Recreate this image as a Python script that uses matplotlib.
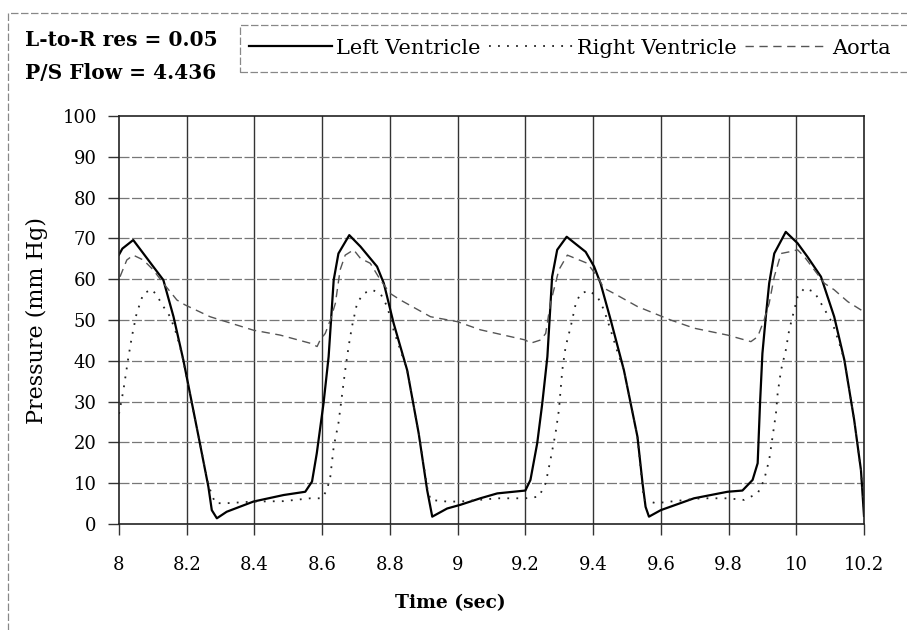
import matplotlib
matplotlib.use("Agg")
import matplotlib.pyplot as plt
from matplotlib.patches import Rectangle

# left ventricle pressure (mm Hg) vs time (sec)
lv_time = [8.000, 8.010, 8.042, 8.072, 8.101, 8.131, 8.161, 8.190, 8.235, 8.264, 8.274, 8.289,
           8.318, 8.397, 8.486, 8.550, 8.570, 8.584, 8.604, 8.619, 8.634, 8.648, 8.680, 8.713,
           8.762, 8.782, 8.811, 8.851, 8.885, 8.910, 8.925, 8.969, 9.008, 9.067, 9.117, 9.200,
           9.215, 9.235, 9.250, 9.265, 9.279, 9.294, 9.322, 9.378, 9.403, 9.422, 9.452, 9.491,
           9.531, 9.546, 9.555, 9.565, 9.600, 9.698, 9.797, 9.841, 9.871, 9.886, 9.893, 9.900,
           9.910, 9.920, 9.935, 9.969, 10.004, 10.033, 10.073, 10.112, 10.142, 10.171, 10.191, 10.200]
lv_pressure = [66.0, 67.5, 69.6, 66.3, 63.1, 59.8, 50.8, 40.2, 21.4, 9.1, 3.4, 1.4,
               3.0, 5.5, 7.1, 7.9, 10.4, 17.3, 29.6, 41.0, 59.8, 66.3, 70.8, 68.0,
               63.1, 59.0, 49.2, 37.7, 22.2, 8.3, 1.8, 3.8, 4.7, 6.3, 7.5, 8.2,
               10.8, 19.8, 29.6, 41.0, 60.6, 67.2, 70.4, 66.7, 63.1, 59.0, 50.0, 37.7,
               21.4, 10.0, 4.2, 1.8, 3.4, 6.3, 7.9, 8.2, 10.8, 14.9, 29.6, 41.8,
               50.8, 59.0, 66.3, 71.6, 68.8, 65.5, 60.6, 50.8, 40.2, 25.5, 13.2, 2.0]

# right ventricle
rv_time = [8.000, 8.013, 8.028, 8.038, 8.052, 8.072, 8.097, 8.111, 8.131, 8.151, 8.166, 8.180,
           8.190, 8.235, 8.264, 8.284, 8.318, 8.397, 8.486, 8.565, 8.599, 8.614, 8.624, 8.634,
           8.648, 8.658, 8.668, 8.678, 8.688, 8.703, 8.722, 8.747, 8.772, 8.792, 8.811, 8.831,
           8.851, 8.885, 8.910, 8.920, 8.969, 9.008, 9.117, 9.200, 9.240, 9.260, 9.274, 9.289,
           9.299, 9.309, 9.319, 9.334, 9.349, 9.363, 9.388, 9.413, 9.432, 9.452, 9.472, 9.491,
           9.531, 9.550, 9.585, 9.629, 9.718, 9.797, 9.846, 9.886, 9.905, 9.920, 9.930, 9.940,
           9.945, 9.955, 9.969, 9.979, 9.994, 10.004, 10.024, 10.053, 10.073, 10.107, 10.127, 10.142,
           10.171, 10.191, 10.200]
rv_pressure = [27.0, 32.8, 41.0, 45.9, 51.6, 56.5, 57.5, 56.1, 53.3, 50.8, 47.5, 43.5,
               40.0, 21.4, 9.5, 5.1, 5.1, 5.5, 5.6, 6.3, 6.3, 8.3, 11.6, 18.9,
               24.7, 31.2, 37.7, 43.5, 48.4, 54.1, 56.5, 57.4, 56.5, 53.3, 47.5, 42.6,
               37.7, 22.2, 9.0, 5.9, 5.5, 5.5, 6.3, 6.3, 6.7, 10.0, 15.7, 22.2,
               27.9, 37.7, 43.5, 48.4, 54.1, 56.5, 57.2, 55.7, 52.5, 47.5, 42.2, 37.7,
               21.4, 5.9, 5.1, 5.5, 6.3, 6.3, 5.9, 7.5, 10.8, 15.7, 21.4, 27.1,
               32.0, 37.7, 42.6, 47.5, 52.5, 55.7, 57.8, 56.9, 54.1, 49.2, 44.3, 40.2,
               25.5, 13.2, 3.0]

# aorta
ao_time = [8.003, 8.023, 8.042, 8.072, 8.101, 8.131, 8.171, 8.195, 8.269, 8.397, 8.476, 8.565,
           8.585, 8.594, 8.609, 8.624, 8.639, 8.653, 8.668, 8.693, 8.713, 8.742, 8.772, 8.801,
           8.831, 8.920, 8.999, 9.067, 9.200, 9.215, 9.245, 9.260, 9.274, 9.289, 9.299, 9.324,
           9.383, 9.413, 9.432, 9.462, 9.531, 9.629, 9.698, 9.797, 9.866, 9.886, 9.905, 9.920,
           9.935, 9.955, 9.979, 10.004, 10.024, 10.053, 10.083, 10.112, 10.152, 10.200]
ao_pressure = [60.6, 64.7, 65.9, 64.7, 62.3, 59.0, 54.9, 53.7, 50.8, 47.5, 46.3, 44.3,
               43.5, 45.1, 46.7, 50.0, 54.1, 62.3, 65.9, 67.2, 65.1, 63.9, 59.8, 56.5,
               54.9, 50.8, 49.6, 47.6, 45.1, 44.3, 45.1, 46.7, 54.1, 59.0, 62.3, 65.9,
               63.9, 60.6, 57.8, 56.5, 53.3, 50.0, 48.0, 46.3, 44.7, 45.9, 50.0, 54.1,
               60.6, 66.3, 66.7, 67.2, 65.5, 62.3, 59.0, 57.4, 54.5, 52.0]

x_ticks = [8, 8.2, 8.4, 8.6, 8.8, 9, 9.2, 9.4, 9.6, 9.8, 10, 10.2]
x_labels = ["8", "8.2", "8.4", "8.6", "8.8", "9", "9.2", "9.4", "9.6", "9.8", "10", "10.2"]
y_ticks = list(range(0, 101, 10))

plt.rcParams["font.family"] = ["DejaVu Serif"]

W, H = 907, 630
fig = plt.figure(figsize=(W / 100, H / 100), dpi=100)
ax = fig.add_axes([119 / W, 1 - 524 / H, 745 / W, 408 / H])

ax.plot(lv_time, lv_pressure, color="black", lw=1.6, label="Left Ventricle")
ax.plot(rv_time, rv_pressure, color="#222222", lw=1.3, linestyle=(0, (1, 4)), label="Right Ventricle")
ax.plot(ao_time, ao_pressure, color="#555555", lw=1.0, linestyle=(0, (6, 4)), label="Aorta")

ax.set_xlim(8, 10.2)
ax.set_ylim(0, 100)
ax.set_xticks(x_ticks)
ax.set_xticklabels(x_labels)
ax.set_yticks(y_ticks)
ax.tick_params(axis="both", direction="out", length=8, width=1, labelsize=13, color="#333333")
ax.tick_params(axis="x", pad=15)
ax.tick_params(axis="y", pad=8)

for v in x_ticks[1:-1]:
    ax.axvline(v, color="#333333", lw=1.0, zorder=0)
for v in y_ticks[1:-1]:
    ax.axhline(v, color="#777777", lw=0.9, linestyle=(0, (8, 2)), zorder=0)
for s in ax.spines.values():
    s.set_color("#222222")
    s.set_linewidth(1.2)

ax.set_xlabel("Time (sec)", fontsize=13.5, fontweight="bold")
ax.xaxis.set_label_coords((450 - 119) / 745, -(594 - 524) / 408)
ax.set_ylabel("Pressure (mm Hg)", fontsize=16, labelpad=10)

# outer frame and the two run parameters
fig.add_artist(Rectangle((8 / W, -0.1), 1.2, 1 - 13 / H + 0.1, transform=fig.transFigure,
                         fill=False, edgecolor="#888888", lw=0.9, linestyle=(0, (6, 2))))
fig.text(25 / W, 1 - 40 / H, "L-to-R res = 0.05", fontsize=14.5, fontweight="bold", va="center")
fig.text(25 / W, 1 - 73 / H, "P/S Flow = 4.436", fontsize=14.5, fontweight="bold", va="center")

fig.add_artist(Rectangle((240 / W, 1 - 72 / H), 1.0, 47 / H, transform=fig.transFigure,
                         fill=False, edgecolor="#888888", lw=0.9, linestyle=(0, (6, 2))))
handles, labels = ax.get_legend_handles_labels()
fig.legend(handles, labels, loc="center left", bbox_to_anchor=(249 / W, 1 - 48 / H), ncol=3,
           frameon=False, fontsize=15, handlelength=4.0, handletextpad=0.2, columnspacing=0.4,
           borderpad=0, borderaxespad=0)

fig.savefig("out.png", dpi=100)
